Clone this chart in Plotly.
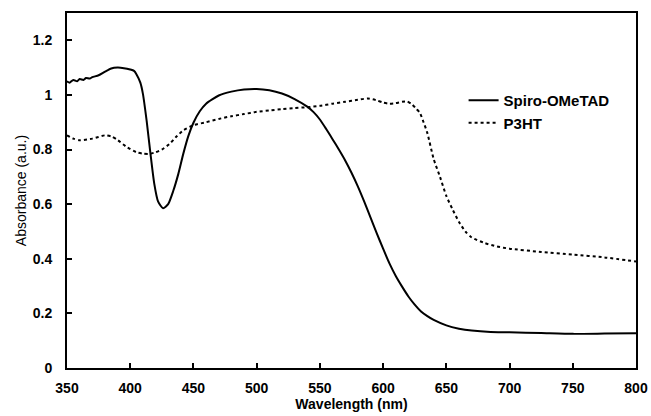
import plotly.graph_objects as go

# Spiro-OMeTAD absorbance
spiro_wl = [350, 352, 355, 358, 360, 363, 365, 368, 370, 375, 380, 385, 390, 395, 400, 403, 405, 408, 410,
            413, 416, 419, 422, 426, 430, 434, 438, 442, 446, 450, 455, 460, 470, 480, 490, 500, 510,
            520, 530, 540, 545, 550, 555, 560, 565, 570, 575, 580, 585, 590, 595, 600, 605, 610, 615,
            620, 625, 630, 635, 640, 650, 660, 670, 685, 700, 725, 750, 775, 800]
spiro_abs = [1.05, 1.045, 1.055, 1.05, 1.058, 1.055, 1.062, 1.06, 1.065, 1.072, 1.085, 1.097, 1.10, 1.098, 1.093, 1.088, 1.075, 1.045, 1.005,
             0.905, 0.785, 0.675, 0.61, 0.585, 0.60, 0.648, 0.71, 0.785, 0.85, 0.898, 0.94, 0.968, 0.998, 1.012, 1.02, 1.022, 1.017,
             1.005, 0.985, 0.957, 0.937, 0.91, 0.875, 0.838, 0.80, 0.76, 0.715, 0.665, 0.61, 0.552, 0.493, 0.437, 0.383, 0.337, 0.298,
             0.262, 0.232, 0.207, 0.19, 0.176, 0.156, 0.144, 0.137, 0.132, 0.131, 0.128, 0.125, 0.126, 0.127]

# P3HT absorbance
p3ht_wl = [350, 355, 360, 370, 380, 385, 390, 397, 405, 410, 415, 420, 425, 431, 436, 442, 450, 460, 470,
           480, 490, 500, 510, 520, 530, 540, 550, 560, 570, 580, 588, 595, 600, 605, 610, 615, 619,
           623, 626, 629, 632, 635, 640, 645, 650, 655, 660, 665, 670, 680, 690, 700, 725, 750, 775, 800]
p3ht_abs = [0.852, 0.84, 0.834, 0.84, 0.852, 0.848, 0.835, 0.81, 0.79, 0.785, 0.784, 0.79, 0.80, 0.82, 0.845, 0.87, 0.889, 0.90, 0.912,
            0.922, 0.93, 0.938, 0.943, 0.948, 0.952, 0.955, 0.96, 0.968, 0.975, 0.982, 0.987, 0.98, 0.972, 0.968, 0.97, 0.975, 0.976,
            0.965, 0.95, 0.935, 0.90, 0.86, 0.765, 0.70, 0.63, 0.58, 0.535, 0.50, 0.478, 0.458, 0.445, 0.437, 0.425, 0.415, 0.405, 0.39]

fig = go.Figure()
fig.add_trace(go.Scatter(x=spiro_wl, y=spiro_abs, mode="lines", name="Spiro-OMeTAD",
                         line=dict(color="black", width=2, dash="solid", shape="spline", smoothing=0.6)))
fig.add_trace(go.Scatter(x=p3ht_wl, y=p3ht_abs, mode="lines", name="P3HT",
                         line=dict(color="black", width=2, dash="dot", shape="spline", smoothing=0.6)))

font_main = "Liberation Sans, Arial, sans-serif"
fig.update_layout(
    width=651, height=416,
    margin=dict(l=67, r=15, t=13, b=48),
    paper_bgcolor="white", plot_bgcolor="white",
    font=dict(family=font_main, size=14, color="black"),
    showlegend=True,
    legend=dict(x=0.697, y=0.8, xanchor="left", yanchor="top",
                font=dict(family=font_main, size=15, color="black", weight="bold"),
                itemwidth=30, tracegroupgap=0, bgcolor="rgba(0,0,0,0)"),
    xaxis=dict(range=[350, 800], tickvals=[350, 400, 450, 500, 550, 600, 650, 700, 750, 800],
               ticks="inside", ticklen=5, tickwidth=1.5, tickcolor="black", ticklabelstandoff=6,
               showline=True, linecolor="black", linewidth=2, mirror=True, showgrid=False, zeroline=False,
               automargin=False,
               tickfont=dict(family=font_main, size=14, color="black", weight="bold"),
               title=dict(text="Wavelength (nm)", standoff=3,
                          font=dict(family=font_main, size=14, color="black", weight="bold"))),
    yaxis=dict(range=[0, 1.3], tickvals=[0, 0.2, 0.4, 0.6, 0.8, 1, 1.2],
               ticktext=["0", "0.2", "0.4", "0.6", "0.8", "1", "1.2"],
               ticks="inside", ticklen=5, tickwidth=1.5, tickcolor="black", ticklabelstandoff=10,
               showline=True, linecolor="black", linewidth=2, mirror=True, showgrid=False, zeroline=False,
               automargin=False,
               tickfont=dict(family=font_main, size=14, color="black", weight="bold"),
               title=dict(text="Absorbance (a.u.)", standoff=3,
                          font=dict(family=font_main, size=14, color="#000000"))),
)

fig.write_html("out.html")
